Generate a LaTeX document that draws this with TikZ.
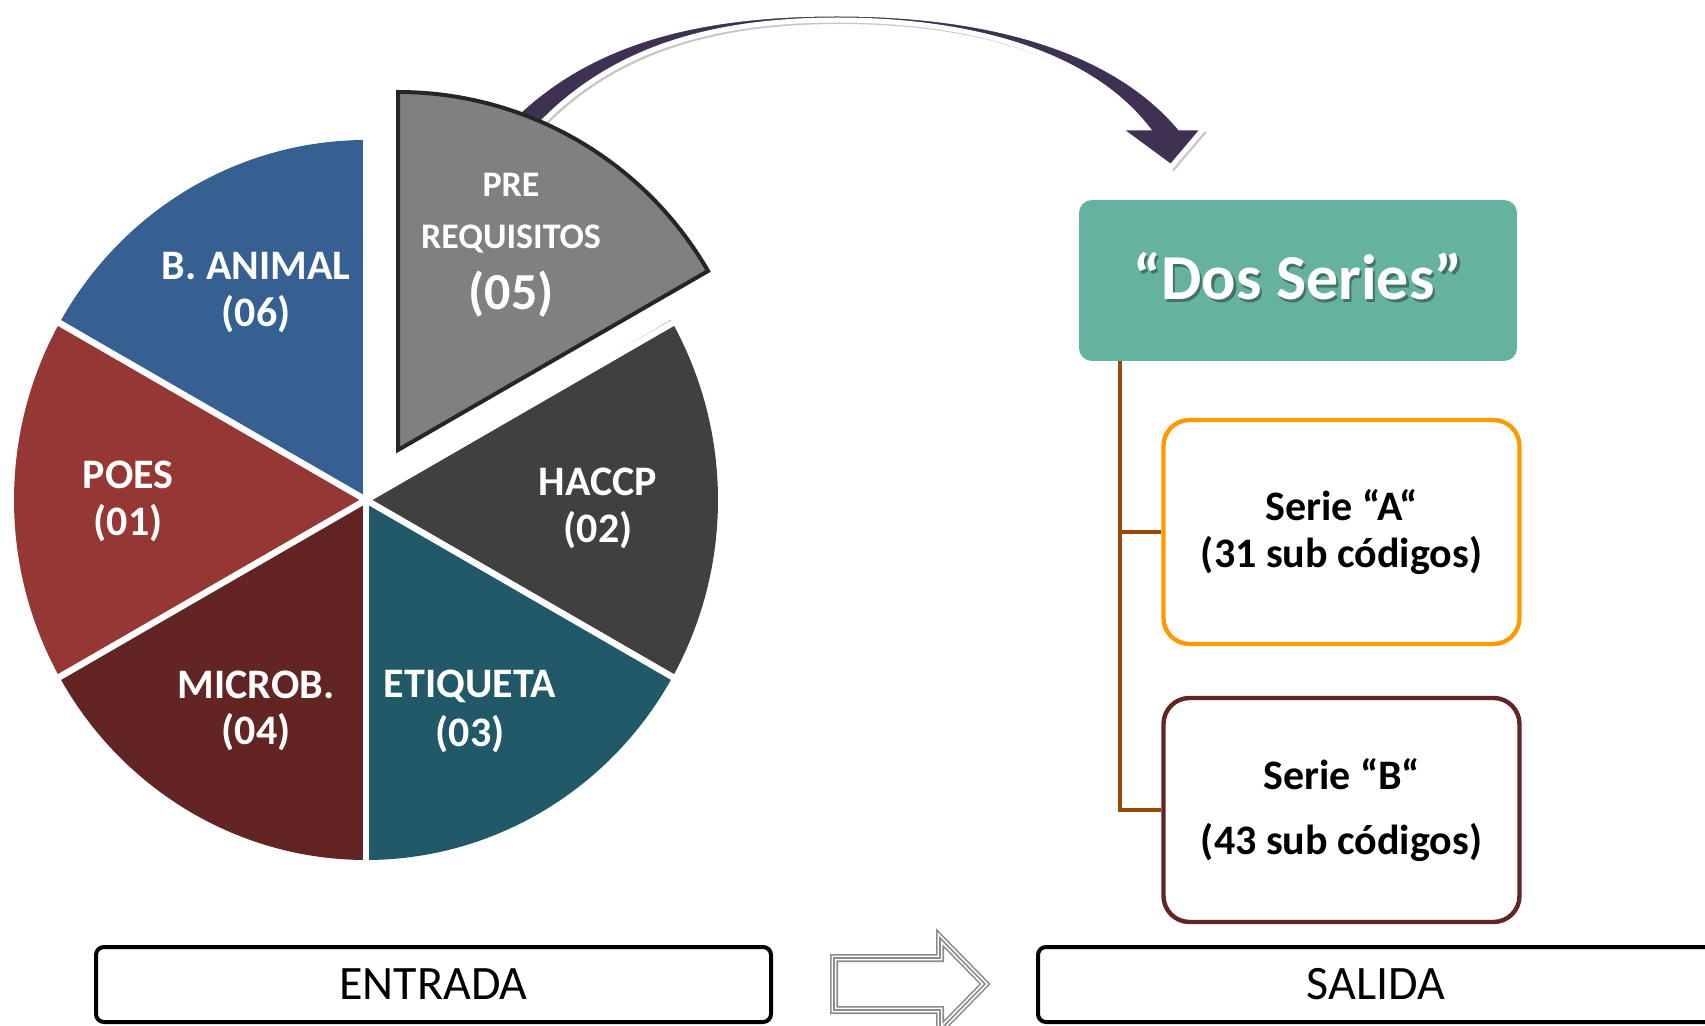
\documentclass[tikz,border=0pt]{standalone}
\usepackage{fontspec}
\setmainfont{Carlito}
\usetikzlibrary{calc}
\definecolor{cblue}{HTML}{376092}
\definecolor{cred}{HTML}{953735}
\definecolor{cdred}{HTML}{632523}
\definecolor{cteal}{HTML}{215968}
\definecolor{cdgray}{HTML}{404040}
\definecolor{cgray}{HTML}{808080}
\definecolor{coutline}{HTML}{262626}
\definecolor{cpurple}{HTML}{3F3151}
\definecolor{cgreen}{HTML}{65B29F}
\definecolor{corange}{HTML}{FF9900}
\definecolor{cbrown}{HTML}{984807}
\definecolor{cgrayarrow}{HTML}{8C8C8C}
\begin{document}
\begin{tikzpicture}[x=0.5pt,y=0.5pt,
  lbl/.style={text=white,font=\bfseries\fontsize{21}{24}\selectfont,inner sep=0pt},
  lblsmall/.style={lbl,font=\bfseries\fontsize{18}{20}\selectfont},
  lblbig/.style={lbl,font=\bfseries\fontsize{26}{28}\selectfont},
  sep/.style={draw=white,line width=3.2pt},
  serbox/.style={draw,rounded corners=13pt,line width=2.2pt,minimum width=178pt,minimum height=112pt,align=center,fill=white,inner sep=0pt,font=\bfseries\fontsize{21}{23.5}\selectfont},
  iobox/.style={draw=black,line width=2pt,rounded corners=4pt,minimum height=37.5pt,inner sep=0pt,font=\fontsize{24}{28}\selectfont},
  conn/.style={draw=cbrown,line width=2pt},
  dostxt/.style={font=\bfseries\fontsize{32}{36}\selectfont,inner sep=0pt},
]
\useasboundingbox (0,0) rectangle (1705,1025);

% curved arrow: shadow
\begin{scope}[shift={(3,-4)}]
\fill[black,opacity=0.22] (510,905) .. controls (590,985) and (700,1011) .. (837,1011) .. controls (980,1011) and (1110,980) .. (1180,897) -- (1204,897) -- (1171,858) -- (1118,897) -- (1147,897) .. controls (1090,970) and (975,1005) .. (837,1005) .. controls (710,1005) and (610,975) .. (537,897) -- cycle;
\end{scope}
% curved arrow
\path[fill=cpurple,draw=white,line width=2.5pt,line join=miter] (510,905) .. controls (590,985) and (700,1011) .. (837,1011) .. controls (980,1011) and (1110,980) .. (1180,897) -- (1204,897) -- (1171,858) -- (1118,897) -- (1147,897) .. controls (1090,970) and (975,1005) .. (837,1005) .. controls (710,1005) and (610,975) .. (537,897) -- cycle;

% pie
\coordinate (c) at (366,525);
\fill[cdgray] (c) -- ++(-30:352 and 360) arc[start angle=-30,end angle=30,x radius=352,y radius=360] -- cycle;
\fill[cteal] (c) -- ++(-90:352 and 360) arc[start angle=-90,end angle=-30,x radius=352,y radius=360] -- cycle;
\fill[cdred] (c) -- ++(-150:352 and 360) arc[start angle=-150,end angle=-90,x radius=352,y radius=360] -- cycle;
\fill[cred] (c) -- ++(150:352 and 360) arc[start angle=150,end angle=210,x radius=352,y radius=360] -- cycle;
\fill[cblue] (c) -- ++(90:352 and 360) arc[start angle=90,end angle=150,x radius=352,y radius=360] -- cycle;
\foreach \a in {30,90,150,210,270,330} \draw[sep] (c) -- ++(\a:380);

\coordinate (preapex) at (398,575);
\draw[fill=cgray,draw=coutline,line width=2pt,line join=miter] (preapex) -- ++(30:358) arc[start angle=30,end angle=90,radius=358] -- cycle;

% pie labels
\node[lblsmall] (pre1) at (511,840) {PRE};
\node[lblsmall] (pre2) at (511,786) {REQUISITOS};
\node[lblbig] (pre3) at (511,731) {(05)};
\node[lbl] (ban1) at (256,759) {B. ANIMAL};
\node[lbl] (ban2) at (256,711) {(06)};
\node[lbl] (poes1) at (128,550) {POES};
\node[lbl] (poes2) at (128,502) {(01)};
\node[lbl] (hac1) at (598,543) {HACCP};
\node[lbl] (hac2) at (598,495) {(02)};
\node[lbl] (mic1) at (256,340) {MICROB.};
\node[lbl] (mic2) at (256,293) {(04)};
\node[lbl] (eti1) at (470,339) {ETIQUETA};
\node[lbl] (eti2) at (470,291) {(03)};

% right side
\node[fill=cgreen,rounded corners=6.5pt,minimum width=219pt,minimum height=80.5pt,inner sep=0pt] (dos) at (1298,744.5) {};
\node[dostxt,text=black,opacity=0.35] (dosshadow) at (1300.5,746) {“Dos Series”};
\node[dostxt,text=white] (dostext) at ([yshift=2pt]dos.center) {“Dos Series”};

\node[serbox,draw=corange] (boxA) at (1341.5,493) {Serie “A“\\(31 sub códigos)};
\node[serbox,draw=cdred] (boxB) at (1341.5,215) {Serie “B“\\[9pt](43 sub códigos)};

\draw[conn] ([xshift=20.5pt]dos.south west) |- (boxA.west);
\draw[conn] ([xshift=20.5pt]dos.south west) |- (boxB.west);

% bottom
\node[iobox,minimum width=337.5pt] (entrada) at (433.5,40.5) {ENTRADA};
\node[iobox,minimum width=338pt] (salida) at (1376,40.5) {SALIDA};

\draw[cgrayarrow,fill=white,line width=4pt,line join=miter] (834,67) -- (940,67) -- (940,87) -- (985,41) -- (940,-5) -- (940,15) -- (834,15) -- cycle;
\draw[white,line width=2.4pt,line join=miter] (834,67) -- (940,67) -- (940,87) -- (985,41) -- (940,-5) -- (940,15) -- (834,15) -- cycle;
\draw[cgrayarrow,line width=0.8pt,line join=miter] (834,67) -- (940,67) -- (940,87) -- (985,41) -- (940,-5) -- (940,15) -- (834,15) -- cycle;
\end{tikzpicture}
\end{document}
